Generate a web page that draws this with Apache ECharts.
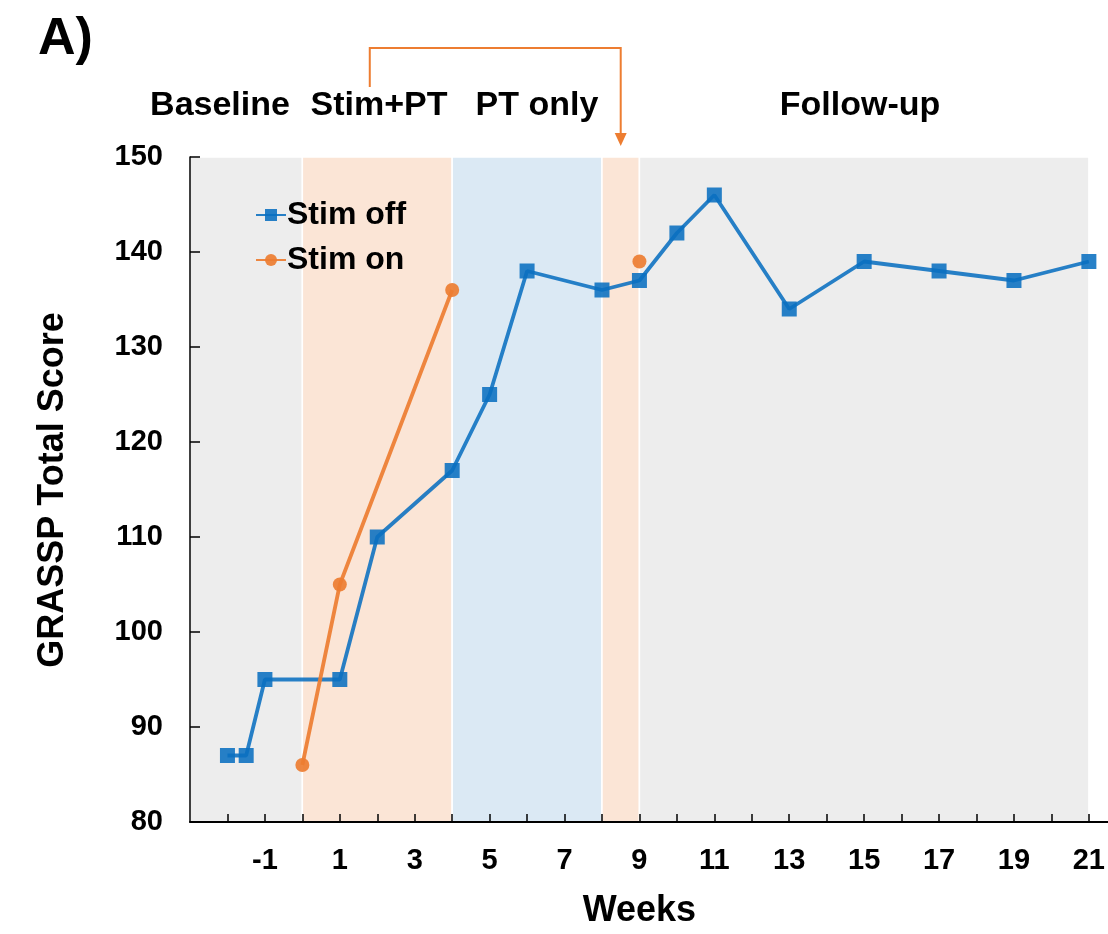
<!DOCTYPE html>
<html>
<head>
<meta charset="utf-8">
<script src="https://cdn.jsdelivr.net/npm/echarts@6/dist/echarts.min.js"></script>
<style>html,body{margin:0;padding:0;background:#fff;}#c{width:1108px;height:934px;}</style>
</head>
<body>
<div id="c"></div>
<script>
// ---- data ----
const weeksOff = [-2, -1.5, -1, 1, 2, 4, 5, 6, 8, 9, 10, 11, 13, 15, 17, 19, 21];
const scoreOff = [87, 87, 95, 95, 110, 117, 125, 138, 136, 137, 142, 146, 134, 139, 138, 137, 139];
const weeksOn = [0, 1, 4, 9];
const scoreOn = [86, 105, 136, 139];
const onGapBefore = [9];            // stim-on point not connected to previous
const tickWeeks = [-2,-1,0,1,2,3,4,5,6,7,8,9,10,11,12,13,14,15,16,17,18,19,20,21];
const labelWeeks = [-1, 1, 3, 5, 7, 9, 11, 13, 15, 17, 19, 21];
const phases = [
  {name: 'Baseline', from: -3, to: 0, color: '#ededed'},
  {name: 'Stim+PT', from: 0, to: 4, color: '#fbe5d6'},
  {name: 'PT only', from: 4, to: 8, color: '#dbe9f4'},
  {name: 'Stim+PT', from: 8, to: 9, color: '#fbe5d6'},
  {name: 'Follow-up', from: 9, to: 21, color: '#ededed'}
];
const phaseLabels = ['Baseline', 'Stim+PT', 'PT only', 'Follow-up'];

const FF = '"Liberation Sans", Arial, sans-serif';
const BLUE = '#0a70c0';
const ORANGE = '#ed7d31';

const offData = weeksOff.map((w, i) => [w, scoreOff[i]]);
const onData = [];
weeksOn.forEach((w, i) => {
  if (onGapBefore.includes(w)) onData.push([w, '-']);
  onData.push([w, scoreOn[i]]);
});

const chart = echarts.init(document.getElementById('c'));
const option = {
  animation: false,
  backgroundColor: '#fff',
  grid: {left: 190, right: 0, top: 157, bottom: 112},
  legend: {
    data: ['Stim off', 'Stim on'],
    orient: 'vertical',
    left: 250, top: 194,
    itemWidth: 30, itemHeight: 15, itemGap: 13,
    textStyle: {fontFamily: FF, fontSize: 32, fontWeight: 'bold', color: '#000', padding: [0, 0, 0, -4]}
  },
  xAxis: {
    type: 'value', min: -3, max: 21.5, interval: 1, z: 10,
    axisLine: {show: true, onZero: false, lineStyle: {color: '#000', width: 2}},
    axisTick: {show: true, inside: true, length: 8, customValues: tickWeeks, lineStyle: {color: '#000', width: 1.5}},
    axisLabel: {customValues: labelWeeks, fontFamily: FF, fontSize: 29, fontWeight: 'bold', color: '#000', margin: 24},
    splitLine: {show: false}
  },
  yAxis: {
    type: 'value', min: 80, max: 150, interval: 10, z: 10,
    axisLine: {show: true, onZero: false, lineStyle: {color: '#000', width: 1.5}},
    axisTick: {show: true, inside: true, length: 10, lineStyle: {color: '#000', width: 1.5}},
    axisLabel: {fontFamily: FF, fontSize: 29, fontWeight: 'bold', color: '#000', margin: 27},
    splitLine: {show: false}
  },
  series: [
    {
      name: 'Stim off', type: 'line', data: offData, z: 3,
      symbol: 'rect', symbolSize: 15,
      lineStyle: {color: BLUE, width: 3.8, opacity: 0.88},
      itemStyle: {color: BLUE, opacity: 0.88},
      markArea: {
        silent: true,
        itemStyle: {borderColor: '#fff', borderWidth: 1.5},
        data: phases.map(p => [{xAxis: p.from, itemStyle: {color: p.color}}, {xAxis: p.to}])
      }
    },
    {
      name: 'Stim on', type: 'line', data: onData, z: 4,
      symbol: 'circle', symbolSize: 14, connectNulls: false,
      lineStyle: {color: ORANGE, width: 3.8, opacity: 0.92},
      itemStyle: {color: ORANGE, opacity: 0.92}
    }
  ]
};
chart.setOption(option);

const px = (x, y) => chart.convertToPixel({xAxisIndex: 0, yAxisIndex: 0}, [x, y]);
const xL = px(1.8, 150)[0];
const xR = px(8.5, 150)[0];
const topY = px(0, 150)[1];
const textStyleTop = {fontFamily: FF, fontSize: 34, fontWeight: 'bold', fill: '#000', align: 'center', verticalAlign: 'middle'};
const labelX = [220, 379, 537, 860];
chart.setOption({
  graphic: [
    {type: 'text', left: 38, top: 14, style: {text: 'A)', fontFamily: FF, fontSize: 52, fontWeight: 'bold', fill: '#000'}},
    ...phaseLabels.map((t, i) => ({type: 'text', x: labelX[i], y: 106, style: Object.assign({text: t}, textStyleTop)})),
    {type: 'polyline', shape: {points: [[xL, 87], [xL, 48], [xR, 48], [xR, topY - 18]]},
     style: {stroke: ORANGE, lineWidth: 2, fill: null}},
    {type: 'polygon', shape: {points: [[xR - 6, topY - 24], [xR + 6, topY - 24], [xR, topY - 11]]},
     style: {fill: ORANGE}},
    {type: 'text', x: 53, y: 490, rotation: Math.PI / 2,
     style: {text: 'GRASSP Total Score', fontFamily: FF, fontSize: 36, fontWeight: 'bold', fill: '#000', align: 'center', verticalAlign: 'middle'}},
    {type: 'text', x: px(9, 80)[0], y: 911,
     style: {text: 'Weeks', fontFamily: FF, fontSize: 36, fontWeight: 'bold', fill: '#000', align: 'center', verticalAlign: 'middle'}}
  ]
});
</script>
</body>
</html>
